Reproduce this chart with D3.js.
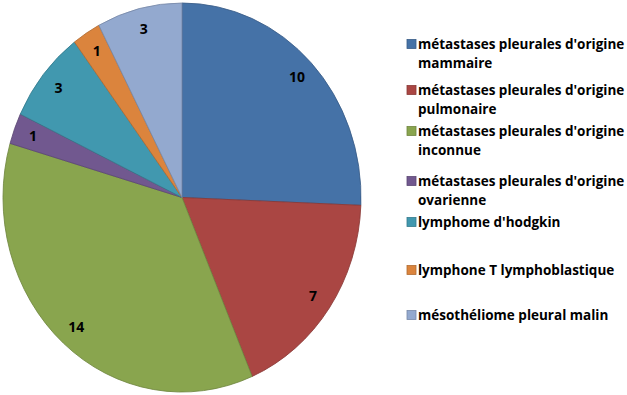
<!DOCTYPE html>
<html>
<head>
<meta charset="utf-8">
<script src="https://cdn.jsdelivr.net/npm/d3@7"></script>
<style>
  body { margin: 0; background: #fff; }
  text { font-family: "Open Sans", "Noto Sans", sans-serif; font-weight: 700; fill: #000; }
</style>
</head>
<body>
<div id="chart"></div>
<script>
// data
const categories = [
    "métastases pleurales d'origine mammaire",
    "métastases pleurales d'origine pulmonaire",
    "métastases pleurales d'origine inconnue",
    "métastases pleurales d'origine ovarienne",
    "lymphome d'hodgkin",
    "lymphone T lymphoblastique",
    "mésothéliome pleural malin"
];
const values = [10, 7, 14, 1, 3, 1, 3];
const colors = ["#4572A7", "#AA4643", "#89A54E", "#71588F", "#4198AF", "#DB843D", "#93A9CF"];
// legend lines (wrapped as in the picture)
const legendLines = [
    ["métastases pleurales d'origine", "mammaire"],
    ["métastases pleurales d'origine", "pulmonaire"],
    ["métastases pleurales d'origine", "inconnue"],
    ["métastases pleurales d'origine", "ovarienne"],
    ["lymphome d'hodgkin"],
    ["lymphone T lymphoblastique"],
    ["mésothéliome pleural malin"]
];
const legendY = [44, 90, 131, 181, 222, 270, 315];

const width = 627, height = 395;
const cx = 182, cy = 197.5;
const rx = 179, ry = 194.5; // the pie is slightly stretched vertically

const svg = d3.select("#chart")
    .append("svg")
    .attr("width", width)
    .attr("height", height);

const data = categories.map((c, i) => ({ name: c, value: values[i], color: colors[i] }));

const pie = d3.pie()
    .value(d => d.value)
    .sort(null);

const arc = d3.arc()
    .innerRadius(0)
    .outerRadius(rx);

const arcs = pie(data);

const pieG = svg.append("g")
    .attr("transform", `translate(${cx},${cy}) scale(1,${ry / rx})`);

pieG.selectAll("path")
    .data(arcs)
    .enter()
    .append("path")
    .attr("d", arc)
    .attr("fill", d => d.data.color)
    .attr("stroke", d => d3.color(d.data.color).darker(0.6))
    .attr("stroke-width", 0.8);

// value labels, at 0.89 of the radius
const mid = d => (d.startAngle + d.endAngle) / 2;

svg.selectAll(".val")
    .data(arcs)
    .enter()
    .append("text")
    .attr("class", "val")
    .attr("x", d => cx + Math.sin(mid(d)) * rx * 0.89)
    .attr("y", d => cy - Math.cos(mid(d)) * ry * 0.89)
    .attr("dy", "0.35em")
    .attr("text-anchor", "middle")
    .style("font-size", "14px")
    .text(d => d.data.value);

// legend
const items = svg.append("g")
    .selectAll(".item")
    .data(data)
    .enter()
    .append("g")
    .attr("class", "item")
    .attr("transform", (d, i) => `translate(407,${legendY[i]})`);

items.append("rect")
    .attr("x", 0)
    .attr("y", -4.5)
    .attr("width", 9)
    .attr("height", 9)
    .attr("fill", d => d.color)
    .attr("stroke", d => d3.color(d.color).darker(0.6))
    .attr("stroke-width", 0.8);

items.each(function(d, i) {
    const t = d3.select(this).append("text")
        .attr("x", 11)
        .attr("y", 0)
        .style("font-size", "13.5px");
    legendLines[i].forEach((line, j) => {
        t.append("tspan")
            .attr("x", 11)
            .attr("dy", j === 0 ? "0.35em" : "19px")
            .text(line);
    });
});
</script>
</body>
</html>
